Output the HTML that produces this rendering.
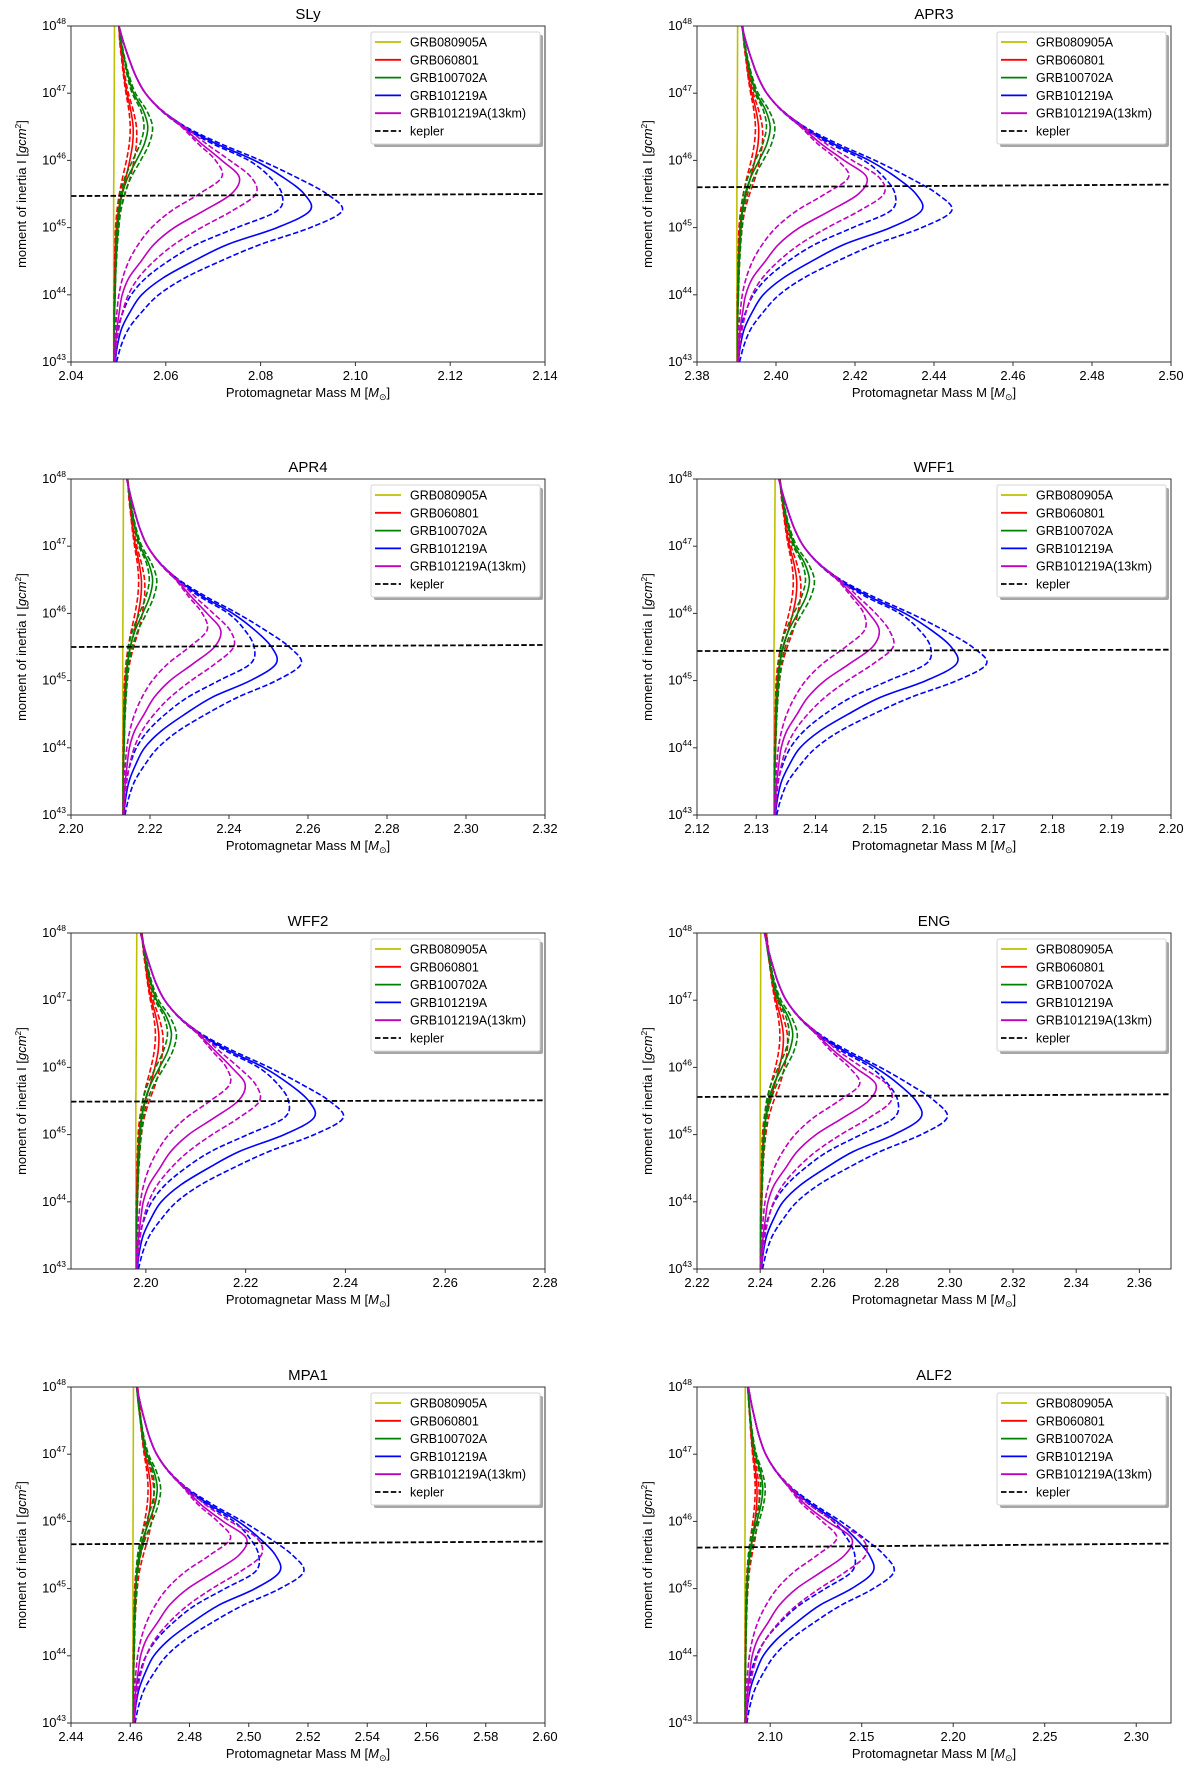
<!DOCTYPE html>
<html><head><meta charset="utf-8"><title>Protomagnetar moment of inertia vs mass</title>
<style>
html,body{margin:0;padding:0;background:#fff;}
svg{display:block;font-family:"Liberation Sans","DejaVu Sans",sans-serif;}
</style></head>
<body>
<svg id="fig" width="1200" height="1771" viewBox="0 0 1200 1771" xmlns="http://www.w3.org/2000/svg"></svg>
<script>
// ---------- data ----------
const logI = [43,43.25,43.5,43.75,44,44.25,44.5,44.75,45,45.25,45.5,45.75,46,46.25,46.5,46.75,47,47.25,47.5,47.75,48];
// mass offsets above base mass (SLy reference shapes)
const yelS  = [0,0,0,0,0,0,0,0,0,0,0,0.00003,0.00005,0.00007,0.0001,0.0001,0.00012,0.00014,0.00015,0.00017,0.00018];
const redS  = [0.0001,0.0001,0.0001,0.0001,0.0002,0.0002,0.0003,0.0004,0.0006,0.0010,0.0017,0.0026,0.0034,0.0040,0.0041,0.0036,0.0028,0.0022,0.0018,0.0014,0.0011];
const redO  = [0.0001,0.0001,0.0002,0.0002,0.0003,0.0004,0.0005,0.0007,0.0010,0.0015,0.0024,0.0035,0.0043,0.0048,0.0048,0.0041,0.0031,0.0024,0.0019,0.0015,0.0011];
const redI  = [0.0001,0.0001,0.0001,0.0001,0.0001,0.0002,0.0002,0.0003,0.0004,0.0007,0.0012,0.0019,0.0027,0.0033,0.0035,0.0032,0.0026,0.0021,0.0017,0.0013,0.0011];
const grnS  = [0.0001,0.0001,0.0001,0.0002,0.0003,0.0004,0.0005,0.0007,0.0009,0.0012,0.0018,0.0030,0.0048,0.0065,0.0072,0.0062,0.0042,0.0031,0.0023,0.0016,0.0011];
const grnO  = [0.0001,0.0001,0.0002,0.0002,0.0003,0.0004,0.0006,0.0008,0.0011,0.0015,0.0023,0.0037,0.0057,0.0075,0.0082,0.0069,0.0046,0.0033,0.0024,0.0017,0.0011];
const grnI  = [0.0001,0.0001,0.0001,0.0001,0.0002,0.0003,0.0004,0.0005,0.0007,0.0010,0.0014,0.0024,0.0040,0.0056,0.0064,0.0057,0.0039,0.0029,0.0022,0.0016,0.0011];
const bluS  = [0.0003,0.0008,0.0017,0.0035,0.0059,0.0104,0.0168,0.0241,0.0345,0.0414,0.0402,0.0357,0.0297,0.0216,0.0148,0.0100,0.0067,0.0047,0.0033,0.0021,0.0011];
const bluO  = [0.0006,0.0016,0.0032,0.0060,0.0095,0.0150,0.0225,0.0310,0.0415,0.0482,0.0450,0.0385,0.0310,0.0225,0.0152,0.0101,0.0067,0.0047,0.0033,0.0021,0.0011];
const bluI  = [0.0002,0.0004,0.0009,0.0020,0.0037,0.0068,0.0115,0.0175,0.0260,0.0345,0.0355,0.0330,0.0285,0.0208,0.0145,0.0099,0.0067,0.0047,0.0033,0.0021,0.0011];
const magS  = [0.0002,0.0004,0.0007,0.0012,0.0018,0.0032,0.0058,0.0085,0.0128,0.0190,0.0248,0.0265,0.0228,0.0185,0.0145,0.0100,0.0067,0.0047,0.0033,0.0021,0.0011];
const magO  = [0.0003,0.0006,0.0011,0.0019,0.0031,0.0052,0.0085,0.0128,0.0185,0.0250,0.0300,0.0290,0.0245,0.0195,0.0150,0.0100,0.0067,0.0047,0.0033,0.0021,0.0011];
const magI  = [0.0001,0.0002,0.0004,0.0007,0.0011,0.0019,0.0032,0.0052,0.0080,0.0122,0.0180,0.0228,0.0215,0.0178,0.0143,0.0100,0.0067,0.0047,0.0033,0.0021,0.0011];
// shared upper envelope of the blue / magenta families
const envU  = [0,0,0,0,0,0,0,0,0,0,0,0,0.0100,0.0150,0.0145,0.0100,0.0067,0.0047,0.0033,0.0021,0.0011];

const panelNames = ["SLy","APR3","APR4","WFF1","WFF2","ENG","MPA1","ALF2"];
const panelM0    = [2.0490,2.3901,2.2131,2.1330,2.1980,2.2400,2.4609,2.0862];
const panelXMin  = [2.04,2.38,2.20,2.12,2.185,2.22,2.44,2.060];
const panelXMax  = [2.14,2.50,2.32,2.20,2.28,2.37,2.60,2.319];
const tickStart  = [2.04,2.38,2.20,2.12,2.20,2.22,2.44,2.10];
const tickStep   = [0.02,0.02,0.02,0.01,0.02,0.02,0.02,0.05];
const tickEnd    = [2.14,2.50,2.32,2.20,2.28,2.36,2.60,2.30];
const keplerLeft = [45.47,45.60,45.50,45.44,45.49,45.56,45.66,45.61];
const keplerRight= [45.50,45.64,45.53,45.46,45.51,45.60,45.70,45.67];
const scaleYel   = [1,1,1,1,1,1,1,1];
const scaleRed   = [1,1.34,1.15,0.93,1.12,1.78,1.46,1.6];
const scaleGrn   = [1,1.17,1.05,0.83,0.99,1.43,1.14,1.35];
const scaleBlu   = [1,1.128,0.937,0.744,0.862,1.227,1.196,1.69];
const scaleMag   = [1,1.24,0.936,0.67,0.826,1.38,1.445,2.2];
const legendLabels = ["GRB080905A","GRB060801","GRB100702A","GRB101219A","GRB101219A(13km)","kepler"];

// ---------- layout ----------
const colLeft = [71,697], AW = 474, rowTop = [26,479,933,1387], AH = 336;
const NS = "http://www.w3.org/2000/svg";
const svg = document.getElementById('fig');
function mk(tag, attrs, parent){
  const e = document.createElementNS(NS, tag);
  for (const k in attrs) e.setAttribute(k, attrs[k]);
  (parent||svg).appendChild(e);
  return e;
}
function smoothPath(pts){
  let d = "M"+pts[0][0].toFixed(2)+","+pts[0][1].toFixed(2);
  for (let i=0;i<pts.length-1;i++){
    const p0=pts[i-1]||pts[i], p1=pts[i], p2=pts[i+1], p3=pts[i+2]||pts[i+1];
    const c1x=p1[0]+(p2[0]-p0[0])/6, c1y=p1[1]+(p2[1]-p0[1])/6;
    const c2x=p2[0]-(p3[0]-p1[0])/6, c2y=p2[1]-(p3[1]-p1[1])/6;
    d+=" C"+c1x.toFixed(2)+","+c1y.toFixed(2)+" "+c2x.toFixed(2)+","+c2y.toFixed(2)+" "+p2[0].toFixed(2)+","+p2[1].toFixed(2);
  }
  return d;
}
const COL = {y:"#bfbf00", r:"#ff0000", g:"#008000", b:"#0000ff", m:"#bf00bf", k:"#000000"};
const DASH = "5.5,2.4";

panelNames.forEach((name, p) => {
  const L = colLeft[p%2], T = rowTop[Math.floor(p/2)], R = L+AW, B = T+AH;
  const xmin = panelXMin[p], xmax = panelXMax[p];
  const sx = m => L + (m - xmin)/(xmax - xmin)*AW;
  const sy = v => T + (48 - v)/5*AH;
  const g = mk('g', {});
  
  

  const cp = mk('clipPath', {id:'clip'+p}, g);
  mk('rect', {x:L, y:T, width:AW, height:AH}, cp);

  const title = mk('text', {x:(L+R)/2, y:T-7, 'text-anchor':'middle', 'font-size':15, fill:'#000'}, g);
  title.textContent = name;
  
  

  const cg = mk('g', {'clip-path':'url(#clip'+p+')'}, g);
  
  
  // [name, shape, family scale, colour, dashed, uses shared envelope]
  const series = [
    ['yellow-solid', yelS, scaleYel[p], COL.y, false, false],
    ['red-dashed-outer', redO, scaleRed[p], COL.r, true, false],
    ['red-dashed-inner', redI, scaleRed[p], COL.r, true, false],
    ['red-solid', redS, scaleRed[p], COL.r, false, false],
    ['green-dashed-outer', grnO, scaleGrn[p], COL.g, true, false],
    ['green-dashed-inner', grnI, scaleGrn[p], COL.g, true, false],
    ['green-solid', grnS, scaleGrn[p], COL.g, false, false],
    ['blue-dashed-outer', bluO, scaleBlu[p], COL.b, true, true],
    ['blue-dashed-inner', bluI, scaleBlu[p], COL.b, true, true],
    ['blue-solid', bluS, scaleBlu[p], COL.b, false, true],
    ['magenta-dashed-outer', magO, scaleMag[p], COL.m, true, true],
    ['magenta-dashed-inner', magI, scaleMag[p], COL.m, true, true],
    ['magenta-solid', magS, scaleMag[p], COL.m, false, true]
  ];
  series.forEach(s => {
    const pts = logI.map((v,i) => {
      const off = s[5] ? envU[i]*scaleBlu[p] + (s[1][i]-envU[i])*s[2] : s[1][i]*s[2];
      return [sx(panelM0[p] + off), sy(v)];
    });
    const a = {d:smoothPath(pts), fill:'none', stroke:s[3], 'stroke-width':1.6};
    if (s[4]) a['stroke-dasharray'] = DASH;
    const path = mk('path', a, cg);
    
    
  });
  const kep = mk('line', {x1:L, y1:sy(keplerLeft[p]), x2:R, y2:sy(keplerRight[p]), stroke:'#000', 'stroke-width':1.8, 'stroke-dasharray':DASH}, cg);
  
  

  const fr = mk('rect', {x:L, y:T, width:AW, height:AH, fill:'none', stroke:'#333', 'stroke-width':1}, g);
  
  

  const nT = Math.round((tickEnd[p]-tickStart[p])/tickStep[p]);
  for (let i=0;i<=nT;i++){
    const v = tickStart[p] + i*tickStep[p];
    const x = sx(v);
    mk('line', {x1:x, y1:B, x2:x, y2:B+4, stroke:'#333', 'stroke-width':1}, g);
    const t = mk('text', {x:x, y:B+18, 'text-anchor':'middle', 'font-size':13, fill:'#000'}, g);
    t.textContent = v.toFixed(2);
    
    
  }
  for (let e=43;e<=48;e++){
    const y = sy(e);
    mk('line', {x1:L-4, y1:y, x2:L, y2:y, stroke:'#333', 'stroke-width':1}, g);
    const t = mk('text', {x:L-5, y:y+4, 'text-anchor':'end', 'font-size':13, fill:'#000'}, g);
    
    
    const a = mk('tspan', {}, t); a.textContent = '10';
    const b = mk('tspan', {dy:-6, 'font-size':8.5}, t); b.textContent = String(e);
  }
  const xl = mk('text', {x:(L+R)/2, y:B+35, 'text-anchor':'middle', 'font-size':13, fill:'#000'}, g);
  
  
  mk('tspan', {}, xl).textContent = 'Protomagnetar Mass M [';
  mk('tspan', {'font-style':'italic'}, xl).textContent = 'M';
  mk('tspan', {dy:3, 'font-size':9}, xl).textContent = '\u2299';
  mk('tspan', {dy:-3}, xl).textContent = ']';

  const yl = mk('text', {x:0, y:0, transform:'translate('+(L-45)+','+(T+AH/2)+') rotate(-90)', 'text-anchor':'middle', 'font-size':13, fill:'#000'}, g);
  
  
  mk('tspan', {}, yl).textContent = 'moment of inertia I [';
  mk('tspan', {'font-style':'italic'}, yl).textContent = 'gcm';
  mk('tspan', {dy:-5, 'font-size':8.5}, yl).textContent = '2';
  mk('tspan', {dy:5}, yl).textContent = ']';

  const lg = mk('g', {}, g);
  
  
  const LW = 169, LH = 112, LX = R-5-LW, LY = T+6;
  mk('rect', {x:LX+3, y:LY+3, width:LW, height:LH, fill:'#a6a6a6', rx:2}, lg);
  mk('rect', {x:LX, y:LY, width:LW, height:LH, fill:'#fff', stroke:'#d6d6d6', 'stroke-width':1, rx:2}, lg);
  const legCols = [COL.y, COL.r, COL.g, COL.b, COL.m, COL.k];
  legendLabels.forEach((lab, i) => {
    const yy = LY + 10 + i*17.8;
    const it = mk('g', {}, lg);
    
    
    const la = {x1:LX+4, y1:yy, x2:LX+30, y2:yy, stroke:legCols[i], 'stroke-width':1.8};
    if (i===5) la['stroke-dasharray'] = DASH;
    mk('line', la, it);
    const tx = mk('text', {x:LX+39, y:yy+4.5, 'font-size':12.5, fill:'#000'}, it);
    tx.textContent = lab;
  });
});
</script>
</body></html>
